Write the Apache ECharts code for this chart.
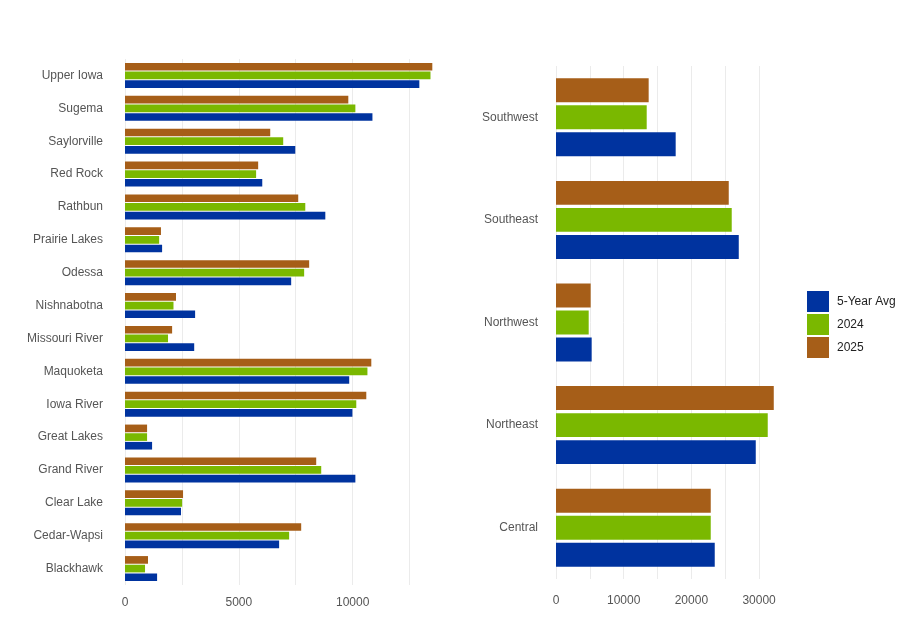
<!DOCTYPE html>
<html>
<head>
<meta charset="utf-8">
<script src="https://cdn.jsdelivr.net/npm/echarts@6/dist/echarts.min.js"></script>
<style>
  html, body { margin: 0; padding: 0; background: #fff; }
  #main { width: 910px; height: 632px; }
</style>
</head>
<body>
<div id="main"></div>
<script>
// left panel: lakes / districts (bottom to top)
var lakes = ['Blackhawk', 'Cedar-Wapsi', 'Clear Lake', 'Grand River', 'Great Lakes', 'Iowa River',
  'Maquoketa', 'Missouri River', 'Nishnabotna', 'Odessa', 'Prairie Lakes', 'Rathbun',
  'Red Rock', 'Saylorville', 'Sugema', 'Upper Iowa'];
var lakeAvg  = [1410, 6770, 2460, 10120, 1190, 9990, 9850, 3040, 3080, 7300, 1630, 8800, 6030, 7480, 10870, 12930];
var lake2024 = [880, 7210, 2510, 8620, 970, 10160, 10650, 1890, 2130, 7870, 1500, 7920, 5760, 6950, 10120, 13420];
var lake2025 = [1010, 7740, 2550, 8400, 970, 10600, 10820, 2070, 2240, 8090, 1580, 7610, 5850, 6380, 9810, 13500];

// right panel: regions (bottom to top)
var regions = ['Central', 'Northeast', 'Northwest', 'Southeast', 'Southwest'];
var regionAvg  = [23450, 29510, 5270, 27000, 17680];
var region2024 = [22860, 31280, 4830, 25960, 13400];
var region2025 = [22860, 32170, 5120, 25520, 13690];

var seriesNames = ['5-Year Avg', '2024', '2025'];
var colors = ['#00339f', '#7ab800', '#a65e18'];

var mychart = echarts.init(document.getElementById('main'));

var axisText = { color: '#555', fontSize: 12, fontFamily: 'Liberation Sans, Arial, sans-serif' };

function barSeries(name, data, idx, color) {
  return {
    name: name,
    type: 'bar',
    xAxisIndex: idx,
    yAxisIndex: idx,
    data: data,
    barCategoryGap: '24%',
    barGap: '13%',
    itemStyle: { color: color },
    emphasis: { disabled: true }
  };
}

var option = {
  animation: false,
  legend: {
    orient: 'vertical',
    left: 807,
    top: 291,
    padding: 0,
    itemWidth: 22,
    itemHeight: 21,
    itemGap: 2,
    icon: 'rect',
    data: seriesNames,
    textStyle: { color: '#222', fontSize: 12, fontFamily: 'Liberation Sans, Arial, sans-serif', padding: [0, 0, 0, 3] }
  },
  grid: [
    { left: 125, top: 59, width: 313, height: 526 },
    { left: 556, top: 66, width: 220, height: 513 }
  ],
  xAxis: [
    {
      type: 'value', gridIndex: 0, min: 0, max: 13750, interval: 2500,
      axisLine: { show: false }, axisTick: { show: false },
      axisLabel: Object.assign({
        margin: 12, showMaxLabel: false,
        formatter: function (v) { return v % 5000 === 0 ? String(v) : ''; }
      }, axisText),
      splitLine: { show: true, showMaxLine: false, lineStyle: { color: '#ebebeb', width: 1 } }
    },
    {
      type: 'value', gridIndex: 1, min: 0, max: 32500, interval: 5000,
      axisLine: { show: false }, axisTick: { show: false },
      axisLabel: Object.assign({
        margin: 16, showMaxLabel: false,
        formatter: function (v) { return v % 10000 === 0 ? String(v) : ''; }
      }, axisText),
      splitLine: { show: true, showMaxLine: false, lineStyle: { color: '#ebebeb', width: 1 } }
    }
  ],
  yAxis: [
    {
      type: 'category', gridIndex: 0, data: lakes,
      axisLine: { show: false }, axisTick: { show: false },
      axisLabel: Object.assign({ margin: 22 }, axisText),
      splitLine: { show: false }
    },
    {
      type: 'category', gridIndex: 1, data: regions,
      axisLine: { show: false }, axisTick: { show: false },
      axisLabel: Object.assign({ margin: 18 }, axisText),
      splitLine: { show: false }
    }
  ],
  // 2025 first so it sits on top of each group
  series: [
    barSeries(seriesNames[2], lake2025, 0, colors[2]),
    barSeries(seriesNames[1], lake2024, 0, colors[1]),
    barSeries(seriesNames[0], lakeAvg, 0, colors[0]),
    barSeries(seriesNames[2], region2025, 1, colors[2]),
    barSeries(seriesNames[1], region2024, 1, colors[1]),
    barSeries(seriesNames[0], regionAvg, 1, colors[0])
  ]
};
mychart.setOption(option);
</script>
</body>
</html>
